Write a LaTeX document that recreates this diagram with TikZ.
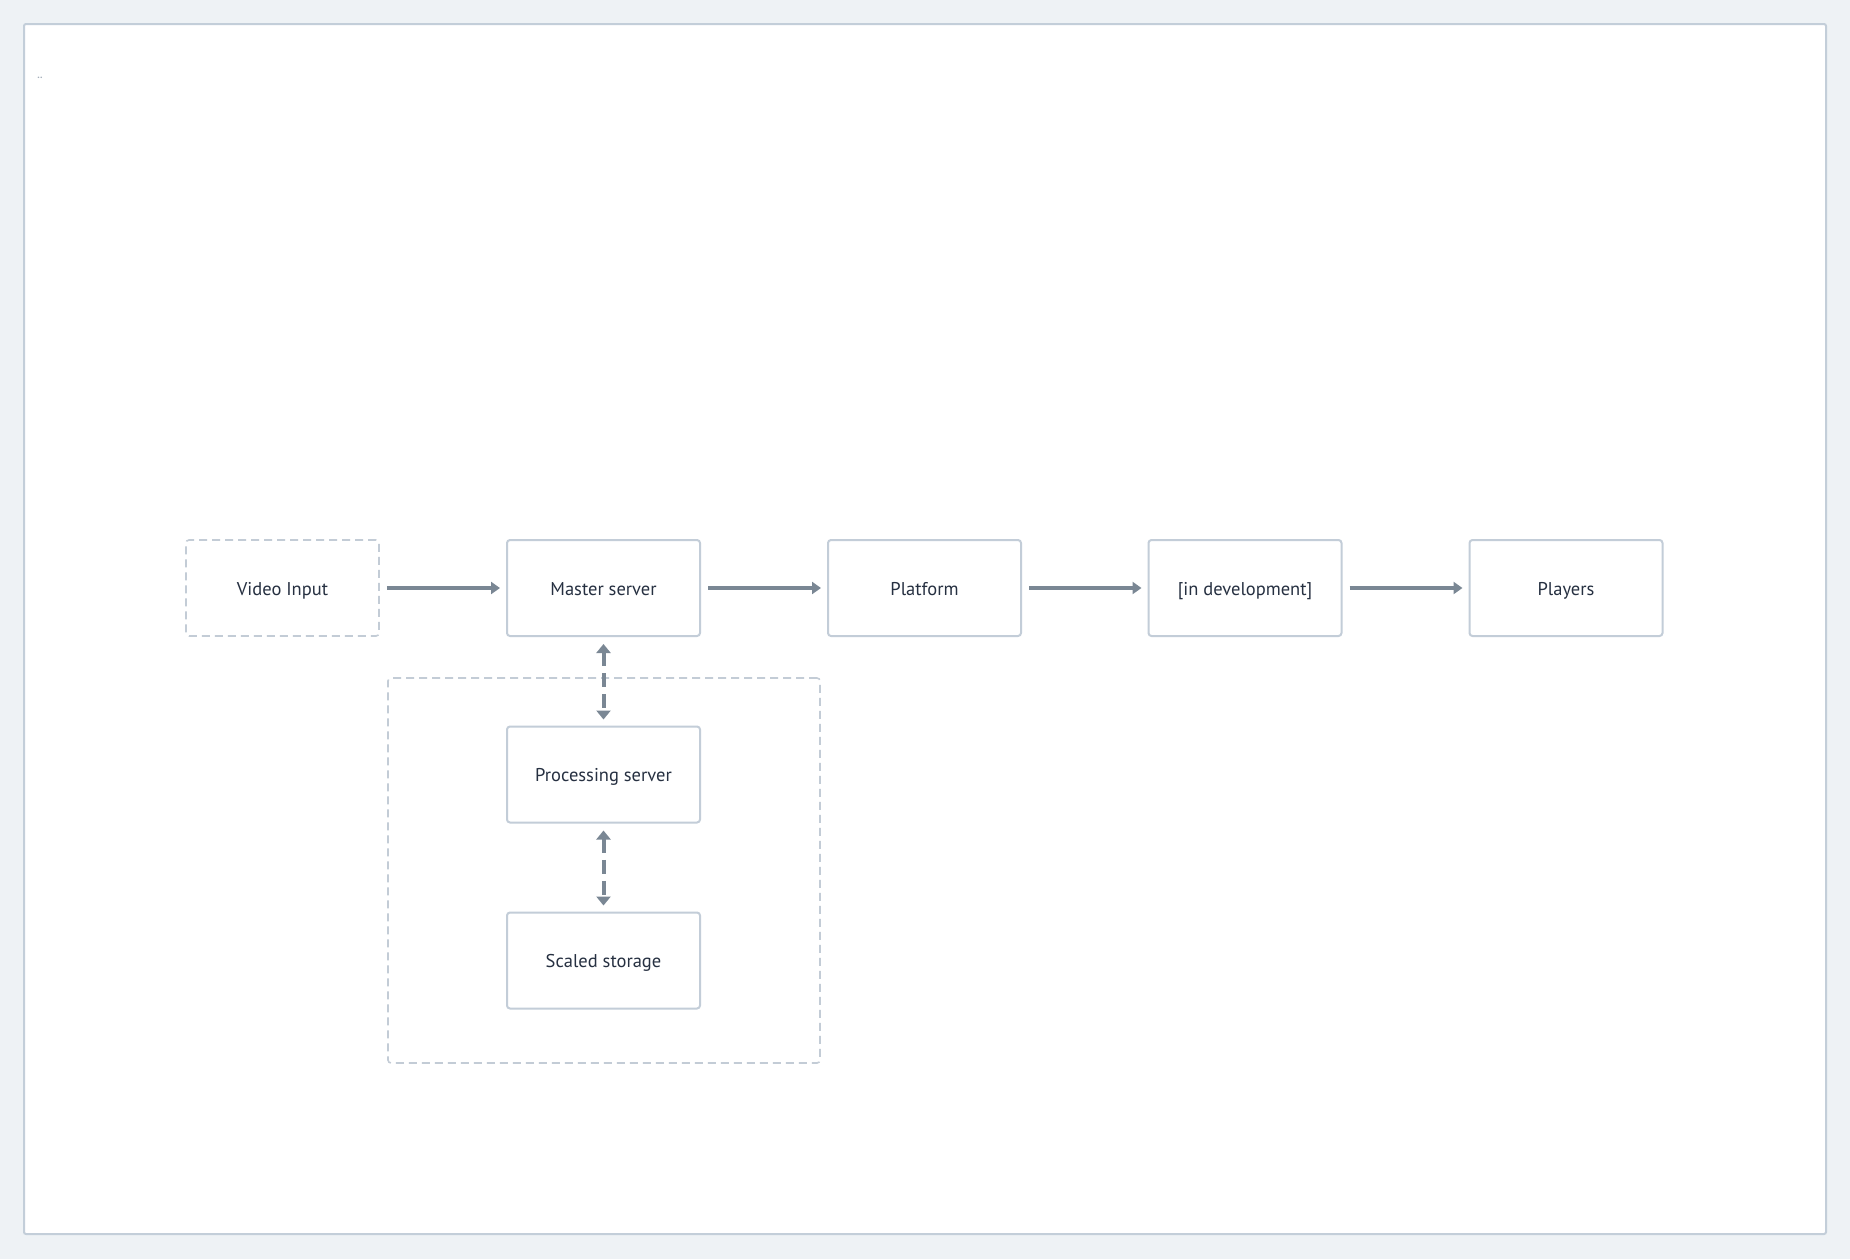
\documentclass[tikz,border=0pt]{standalone}
\usepackage{fontspec}
\setmainfont{PT Sans}
\usetikzlibrary{arrows.meta}
\definecolor{bgc}{HTML}{EEF2F5}
\definecolor{framec}{HTML}{C3CED9}
\definecolor{boxc}{HTML}{C3CDD8}
\definecolor{dashc}{HTML}{C3CCD6}
\definecolor{arrc}{HTML}{7A8794}
\definecolor{txtc}{HTML}{263041}
\definecolor{dotc}{HTML}{A3AEBA}
\tikzset{
  stagebox/.style={draw=boxc, line width=2pt, rounded corners=3pt, fill=white,
    minimum width=193pt, minimum height=96pt, inner sep=0pt,
    text height=15pt, text depth=1pt,
    text=txtc, font=\fontsize{18.5pt}{22pt}\selectfont},
  ghostbox/.style={stagebox, dash pattern=on 8pt off 5pt, line width=1.6pt, draw=dashc},
  flow/.style={draw=arrc, line width=3.5pt, -{Triangle[length=9pt,width=12pt]},
    shorten <=7pt, shorten >=6pt},
  link/.style={draw=arrc, line width=4pt, {Triangle[length=9pt,width=14pt]}-{Triangle[length=9pt,width=14pt]},
    dash pattern=on 14pt off 7pt, shorten <=7pt, shorten >=6pt}
}
\begin{document}
\begin{tikzpicture}[x=1pt,y=-1pt]
\useasboundingbox (0,0) rectangle (1850,1259);
\fill[bgc] (0,0) rectangle (1850,1259);
\draw[framec, line width=2pt, fill=white, rounded corners=2pt] (24,24) rectangle (1826,1234);
\node[text=dotc, font=\fontsize{10pt}{11pt}\selectfont\bfseries, inner sep=0pt] (dots) at (40,78) {..};
% group
\node[draw=dashc, line width=1.6pt, dash pattern=on 8pt off 5pt, rounded corners=3pt,
  minimum width=432pt, minimum height=385pt, inner sep=0pt] (grp) at (604,870.5) {};
% nodes
\node[ghostbox] (vi) at (282.5,588) {Video Input};
\node[stagebox] (ms) at (603.5,588) {Master server};
\node[stagebox] (pf) at (924.5,588) {Platform};
\node[stagebox] (dev) at (1245,588) {[in development]};
\node[stagebox] (pl) at (1566,588) {Players};
\node[stagebox] (ps) at (603.5,774.5) {Processing server};
\node[stagebox] (ss) at (603.5,960.5) {Scaled storage};
% connectors
\draw[flow] (vi) -- (ms);
\draw[flow] (ms) -- (pf);
\draw[flow] (pf) -- (dev);
\draw[flow] (dev) -- (pl);
\draw[link] (ms) -- (ps);
\draw[link] (ps) -- (ss);
\end{tikzpicture}
\end{document}
